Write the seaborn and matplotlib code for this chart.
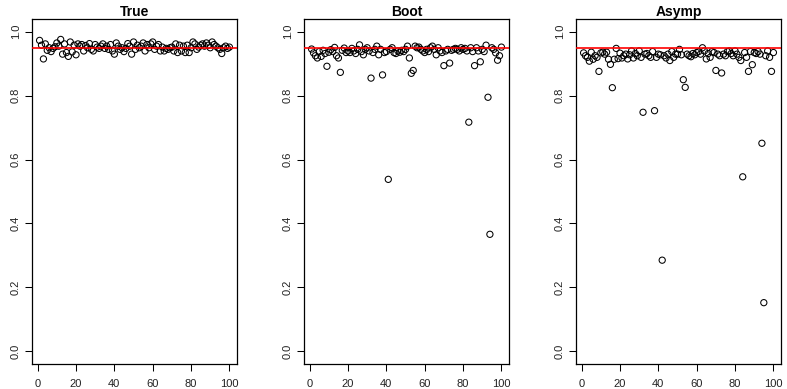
import numpy as np
import pandas as pd
import matplotlib
matplotlib.use("Agg")
import matplotlib.pyplot as plt
import seaborn as sns

titles = ["True", "Boot", "Asymp"]
target_level = 0.95

true_cov = [0.973, 0.958, 0.915, 0.962, 0.942, 0.950, 0.938, 0.948, 0.953, 0.965,
            0.955, 0.976, 0.930, 0.962, 0.935, 0.923, 0.968, 0.937, 0.958, 0.928,
            0.962, 0.955, 0.960, 0.940, 0.957, 0.950, 0.963, 0.945, 0.940, 0.960,
            0.952, 0.948, 0.955, 0.962, 0.948, 0.955, 0.945, 0.960, 0.940, 0.930,
            0.965, 0.955, 0.945, 0.950, 0.938, 0.948, 0.963, 0.955, 0.930, 0.968,
            0.945, 0.958, 0.950, 0.955, 0.965, 0.940, 0.960, 0.950, 0.962, 0.968,
            0.945, 0.955, 0.960, 0.940, 0.952, 0.940, 0.948, 0.945, 0.950, 0.952,
            0.940, 0.962, 0.935, 0.958, 0.940, 0.955, 0.935, 0.958, 0.935, 0.950,
            0.968, 0.962, 0.945, 0.952, 0.958, 0.962, 0.955, 0.965, 0.958, 0.950,
            0.968, 0.960, 0.955, 0.950, 0.945, 0.932, 0.950, 0.955, 0.948, 0.952]

boot_cov = [0.946, 0.934, 0.925, 0.918, 0.938, 0.923, 0.942, 0.932, 0.892, 0.936,
            0.944, 0.938, 0.951, 0.925, 0.918, 0.873, 0.942, 0.949, 0.935, 0.940,
            0.935, 0.948, 0.940, 0.932, 0.945, 0.959, 0.938, 0.928, 0.945, 0.950,
            0.940, 0.855, 0.935, 0.945, 0.955, 0.928, 0.945, 0.865, 0.935, 0.938,
            0.538, 0.945, 0.950, 0.935, 0.932, 0.940, 0.936, 0.942, 0.938, 0.945,
            0.955, 0.918, 0.870, 0.879, 0.955, 0.950, 0.952, 0.945, 0.940, 0.935,
            0.945, 0.938, 0.950, 0.955, 0.945, 0.928, 0.950, 0.940, 0.935, 0.894,
            0.940, 0.945, 0.902, 0.942, 0.945, 0.948, 0.945, 0.940, 0.950, 0.945,
            0.948, 0.940, 0.717, 0.950, 0.938, 0.894, 0.950, 0.940, 0.906, 0.945,
            0.938, 0.958, 0.795, 0.366, 0.950, 0.945, 0.934, 0.911, 0.925, 0.952]

asymp_cov = [0.934, 0.925, 0.920, 0.908, 0.936, 0.914, 0.925, 0.920, 0.876, 0.934,
             0.936, 0.930, 0.936, 0.914, 0.898, 0.825, 0.914, 0.948, 0.916, 0.933,
             0.918, 0.925, 0.930, 0.915, 0.928, 0.940, 0.918, 0.932, 0.925, 0.940,
             0.920, 0.748, 0.930, 0.932, 0.925, 0.920, 0.938, 0.753, 0.920, 0.930,
             0.928, 0.285, 0.925, 0.918, 0.930, 0.910, 0.938, 0.920, 0.930, 0.930,
             0.945, 0.928, 0.850, 0.826, 0.930, 0.925, 0.922, 0.932, 0.928, 0.935,
             0.938, 0.930, 0.950, 0.940, 0.915, 0.932, 0.920, 0.938, 0.935, 0.879,
             0.930, 0.925, 0.871, 0.930, 0.925, 0.938, 0.940, 0.932, 0.925, 0.940,
             0.930, 0.920, 0.910, 0.546, 0.935, 0.920, 0.876, 0.938, 0.897, 0.935,
             0.932, 0.938, 0.930, 0.651, 0.152, 0.925, 0.940, 0.920, 0.876, 0.935]

x_ticks = [0, 20, 40, 60, 80, 100]
y_ticks = [0.0, 0.2, 0.4, 0.6, 0.8, 1.0]
y_tick_labels = ["0.0", "0.2", "0.4", "0.6", "0.8", "1.0"]

series = [true_cov, boot_cov, asymp_cov]

sns.set_style("white")
plt.rcParams['font.family'] = ['Liberation Sans', 'DejaVu Sans']
plt.rcParams['text.color'] = 'black'

fig = plt.figure(figsize=(7.87, 3.89), dpi=100)
lefts = [32 / 787, 304 / 787, 576 / 787]
width = 205 / 787
bottom = 1 - 364 / 389
height = (364 - 19) / 389

for left, title, vals in zip(lefts, titles, series):
    ax = fig.add_axes([left, bottom, width, height])
    df = pd.DataFrame({"idx": np.arange(1, len(vals) + 1), "cov": vals})
    sns.scatterplot(data=df, x="idx", y="cov", ax=ax, marker="o", s=20,
                    color="black", facecolor="none", edgecolor="black",
                    linewidth=0.75, zorder=3)
    ax.axhline(target_level, color="red", linewidth=1.2, zorder=4)
    ax.set_xlim(1 - 0.04 * 99, 100 + 0.04 * 99)
    ax.set_ylim(-0.04, 1.04)
    ax.set_xticks(x_ticks)
    ax.set_xticklabels([str(t) for t in x_ticks], fontsize=8)
    ax.set_yticks(y_ticks)
    ax.set_yticklabels(y_tick_labels, fontsize=8, rotation=90, va="center")
    ax.tick_params(axis="both", direction="out", length=5, width=0.75,
                   color="black", labelcolor="#222222", pad=3, left=True, bottom=True)
    ax.tick_params(axis="x", pad=6)
    for sp in ax.spines.values():
        sp.set_visible(True)
        sp.set_color("black")
        sp.set_linewidth(0.9)
    ax.set_xlabel("")
    ax.set_ylabel("")
    ax.set_title(title, fontsize=10, fontweight="bold", pad=2, color="black")
    ax.grid(False)

fig.savefig("out.png", dpi=100)
